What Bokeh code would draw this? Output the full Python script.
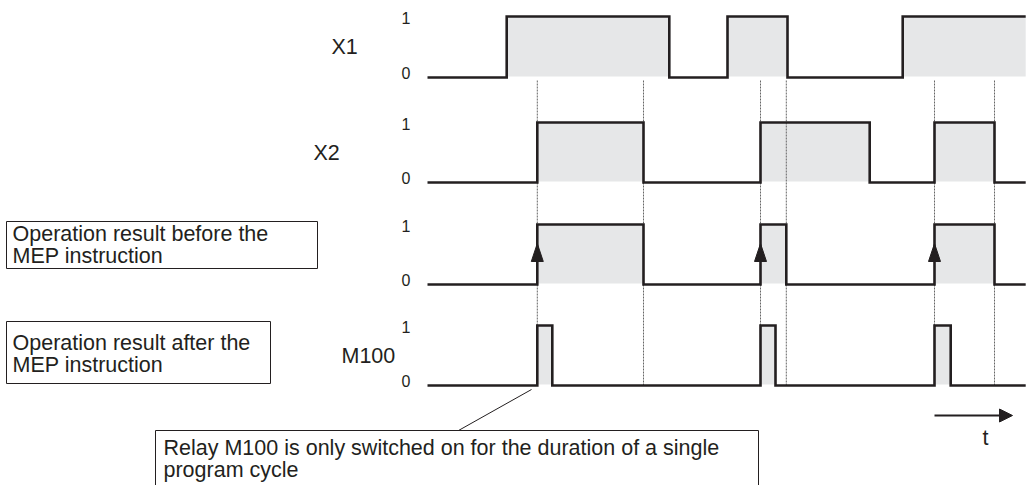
from bokeh.plotting import figure
from bokeh.models import Range1d
from bokeh.core.properties import value
from bokeh.embed import file_html
from bokeh.resources import INLINE

# ---------------- data (time in arbitrary units, signals start at 0) ----------------
t_start, t_end = 0.0, 99.7
signal_names = ["X1", "X2", "", "M100"]
x1_edges = [13.2, 40.3, 50.0, 60.0, 79.2]
x2_edges = [18.3, 36.0, 55.5, 73.7, 84.5, 94.5]
op_edges = [18.3, 36.0, 55.5, 59.8, 84.5, 94.5]
m100_edges = [18.3, 20.8, 55.5, 58.0, 84.5, 87.2]
scan_times = [18.3, 36.0, 55.5, 59.8, 84.5, 94.5]
level_labels = ["0", "1"]
box_texts = [
    ["Operation result before the", "MEP instruction"],
    ["Operation result after the", "MEP instruction"],
    ["Relay M100 is only switched on for the duration of a single", "program cycle"],
]
time_label = "t"

# ---------------- layout ----------------
W, H = 1027, 485
PX0, PXU = 427.0, 6.0          # pixel of t=0, pixels per time unit


def tx(px):
    return (px - PX0) / PXU


FONT = value("Liberation Sans")
INK = "#231f20"
GREY = "#e6e7e8"

p = figure(width=W, height=H, x_range=Range1d(tx(0), tx(W)), y_range=Range1d(H, 0),
           output_backend="svg", toolbar_location=None, min_border=0,
           x_axis_location=None, y_axis_location=None)
p.grid.visible = False
p.outline_line_color = None
p.background_fill_color = "white"

rows_low = [77, 182, 284, 385]
rows_high = [16, 122, 224, 325]
all_edges = [x1_edges, x2_edges, op_edges, m100_edges]


def step_path(edges, lo, hi):
    xs, ys, st = [t_start], [lo], 0
    for e in edges:
        xs.append(e); ys.append(hi if st else lo)
        st ^= 1
        xs.append(e); ys.append(hi if st else lo)
    xs.append(t_end); ys.append(hi if st else lo)
    return xs, ys


def high_spans(edges):
    rises = edges[0::2]
    falls = list(edges[1::2])
    if len(falls) < len(rises):
        falls.append(t_end)
    return rises, falls


# grey fills
for edges, lo, hi in zip(all_edges, rows_low, rows_high):
    r, f = high_spans(edges)
    p.quad(left=r, right=f, top=hi, bottom=lo - 1, fill_color=GREY, line_color=None)

# scan (dashed) lines
p.segment(x0=scan_times, y0=[80] * len(scan_times), x1=scan_times, y1=[385] * len(scan_times),
          line_color="#666666", line_width=1, line_dash="2 1")

# signal lines
for edges, lo, hi in zip(all_edges, rows_low, rows_high):
    xs, ys = step_path(edges, lo, hi)
    p.line(xs, ys, line_color=INK, line_width=2.6, line_join="miter")

# arrowheads on rising edges of the operation result
rises = op_edges[0::2]
p.patches(xs=[[r - 1.0, r, r + 1.0] for r in rises], ys=[[261, 243, 261] for _ in rises],
          fill_color=INK, line_color=INK, line_width=1)

# text helper: y given as the visual centre of the glyphs
def txt(xs, ys, texts, size, align="left"):
    p.text(x=xs, y=ys, text=texts, text_font=FONT, text_font_size=size, text_color=INK,
           text_baseline="alphabetic", text_align=align)


# level labels
lx, ly, lt = [], [], []
for lo, hi in zip(rows_low, rows_high):
    lx += [tx(401), tx(401)]
    ly += [lo - 5, hi + 1]
    lt += level_labels
txt(lx, ly, lt, "16px")

# signal names
name_x = [tx(331), tx(313), 0, tx(341)]
nx, ny, nt = [], [], []
for n, x, lo, hi in zip(signal_names, name_x, rows_low, rows_high):
    if n:
        nx.append(x); ny.append((lo + hi) / 2); nt.append(n)
txt(nx, ny, nt, "21.5px")

# annotation boxes
boxes = [(6, 317, 221, 268), (6, 270, 321, 383), (155, 758, 430, 492)]
p.quad(left=[tx(b[0]) for b in boxes], right=[tx(b[1]) for b in boxes],
       top=[b[2] for b in boxes], bottom=[b[3] for b in boxes],
       fill_color=None, line_color=INK, line_width=1)
text_pos = [(12, 233, 255), (12, 342, 364), (163, 447, 469)]
bx, by, bt = [], [], []
for lines, (x0, y1, y2) in zip(box_texts, text_pos):
    bx += [tx(x0), tx(x0)]
    by += [y1, y2]
    bt += lines
txt(bx, by, bt, "21.5px")

# leader line
p.segment(x0=[tx(458)], y0=[430], x1=[tx(531)], y1=[389], line_color=INK, line_width=1)

# time arrow
p.segment(x0=[tx(934)], y0=[415], x1=[tx(1001)], y1=[415], line_color=INK, line_width=2)
p.patches(xs=[[tx(999), tx(1012), tx(999)]], ys=[[408.5, 415, 421.5]],
          fill_color=INK, line_color=INK)
txt([tx(985)], [437], [time_label], "21.5px", align="center")

open("out.html", "w").write(file_html(p, INLINE))
